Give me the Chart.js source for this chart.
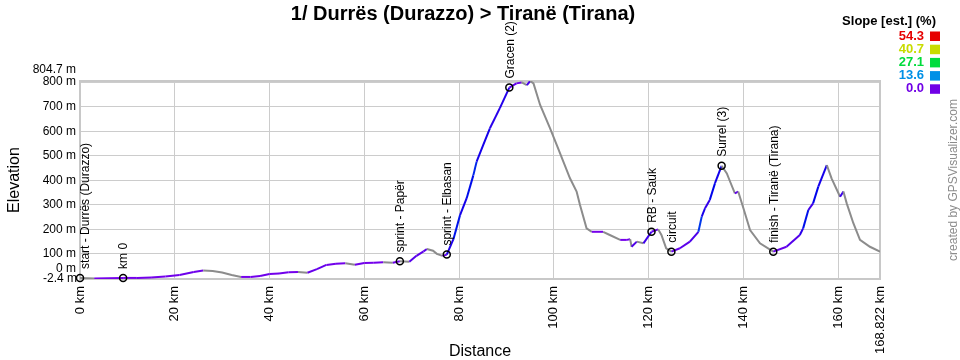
<!DOCTYPE html>
<html><head><meta charset="utf-8">
<script src="https://cdn.jsdelivr.net/npm/chart.js@4/dist/chart.umd.min.js"></script>
<style>html,body{margin:0;padding:0;background:#fff;}canvas{display:block;}</style>
</head><body>
<canvas id="c" width="960" height="360"></canvas>
<script>
const distKm = [0,3,6,9.1,12,15,18,21,24,26,
  28,30,32,34,36,38,40,42,44,46,
  48,50,52,54,56,58,60,62,64,66,
  67.5,69.5,71,72.5,73.2,74.5,75.3,76.5,77.4,78.8,
  80.2,81.6,83.0,83.7,85.1,86.5,88.6,90.6,92.1,93.2,
  94.3,95.0,95.7,97.1,99.2,100.6,102,103.4,104.8,105.5,
  106.9,108,110.4,111.8,114,115.4,116.1,116.4,117.5,118.9,
  120.6,122,122.7,123.7,124.8,126.6,128.7,130.5,131.2,131.9,
  132.9,134,135.4,136.5,137.2,138.2,138.9,140,141.4,143.5,
  146.3,149.1,151.9,152.6,153.7,154.7,155.8,157.6,158.6,160.4,
  161.1,161.8,163.2,164.6,166.7,168.822];
const elevM = [2,0,1,2,2,4,8,14,26,32,
  30,24,14,6,6,10,18,20,25,26,
  23,38,55,60,62,56,63,64,66,64,
  70,68,92,110,120,113,100,92,97,160,
  258,327,420,476,544,612,694,778,795,799,
  788,804.7,795,707,612,544,476,408,354,300,
  204,190,190,177,157,157,160,129,150,143,
  190,200,177,123,109,123,150,190,252,286,
  320,388,459,428,394,347,354,286,197,143,
  109,129,177,204,279,306,374,462,408,333,
  354,306,225,157,129,109];
const wpNames = ["start - Durrës (Durazzo)","km 0","sprint - Papër","sprint - Elbasan","Gracen (2)","RB - Sauk","circuit","Surrel (3)","finish - Tiranë (Tirana)"];
const wpKm = [0,9.1,67.5,77.4,90.6,120.6,124.8,135.4,146.3];
const wpElev = [2,2,70,97,778,190,109,459,109];
const xTickKm = [0,20,40,60,80,100,120,140,160,168.822];
const yTickM = [0,100,200,300,400,500,600,700,800];
const yMin = -2.4, yMax = 804.7, xMax = 168.822;
const slopeLegend = [54.3,40.7,27.1,13.6,0.0];
const slopeColors = ['#e60000','#c8dc00','#00dc3c','#0090e6','#7000e6'];
const titleText = "1/ Durrës (Durazzo) > Tiranë (Tirana)";

const FONT = '"Liberation Sans", Arial, sans-serif';
const slopeHues = [0,65,140,202,270];
function slopeColor(s){
  if (s < 0) return '#8c8c8c';
  const v = slopeLegend.slice().reverse();
  const h = slopeHues.slice().reverse();
  if (s >= v[v.length-1]) return 'hsl(0,100%,45%)';
  for (let i=0;i<v.length-1;i++){
    if (s <= v[i+1]){
      const t=(s-v[i])/(v[i+1]-v[i]);
      return 'hsl('+(h[i]+(h[i+1]-h[i])*t).toFixed(1)+',100%,46%)';
    }
  }
  return '#8c8c8c';
}

const textPlugin = {
  id:'texts',
  beforeDatasetsDraw(chart){
    const {ctx, chartArea:a} = chart;
    ctx.save();
    ctx.strokeStyle='#c8c8c8'; ctx.lineWidth=2;
    ctx.strokeRect(a.left, a.top, a.right-a.left, a.bottom-a.top);
    ctx.restore();
  },
  afterDraw(chart){
    const {ctx, chartArea:a, scales} = chart;
    const xs = scales.x, ys = scales.y;
    ctx.save();
    ctx.fillStyle='#000';
    ctx.font='bold 20px '+FONT; ctx.textAlign='center'; ctx.textBaseline='middle';
    ctx.fillText(titleText, 463, 14);
    ctx.font='bold 13px '+FONT; ctx.textAlign='right';
    ctx.fillText('Slope [est.] (%)', 936, 21);
    slopeLegend.forEach((v,i)=>{
      const cy = 36 + i*13.2;
      ctx.fillStyle = slopeColors[i];
      ctx.fillText(v.toFixed(1), 924, cy);
      ctx.fillRect(930, cy-4.5, 10, 9.5);
    });
    ctx.fillStyle='#000'; ctx.font='12px '+FONT; ctx.textAlign='right';
    yTickM.forEach(v=>{
      let y = ys.getPixelForValue(v);
      if (v===0) y -= 10;
      ctx.fillText(v+' m', 76, y);
    });
    ctx.fillText(yMax+' m', 76, ys.getPixelForValue(yMax)-11);
    ctx.fillText(yMin+' m', 77, ys.getPixelForValue(yMin));
    ctx.font='16px '+FONT; ctx.textAlign='center';
    ctx.fillText('Distance', 480, 352);
    ctx.save(); ctx.translate(15,(a.top+a.bottom)/2); ctx.rotate(-Math.PI/2);
    ctx.fillText('Elevation',0,0); ctx.restore();
    ctx.save(); ctx.fillStyle='#8c8c8c'; ctx.font='12px '+FONT;
    ctx.translate(954,180); ctx.rotate(-Math.PI/2); ctx.fillText('created by GPSVisualizer.com',0,0); ctx.restore();
    ctx.font='12px '+FONT; ctx.textAlign='left'; ctx.fillStyle='#000';
    wpNames.forEach((n,i)=>{
      const px = xs.getPixelForValue(wpKm[i]), py = ys.getPixelForValue(wpElev[i]);
      ctx.save(); ctx.translate(Math.max(px, a.left+5)+1, py-9); ctx.rotate(-Math.PI/2);
      ctx.fillText(n,0,0); ctx.restore();
    });
    ctx.restore();
  }
};

new Chart(document.getElementById('c'), {
  type:'line',
  data:{ datasets:[
    { data: distKm.map((d,i)=>({x:d,y:elevM[i]})), borderWidth:2, pointRadius:0, tension:0,
      borderColor:'#8c8c8c',
      segment:{ borderColor: c => slopeColor((c.p1.parsed.y-c.p0.parsed.y)/((c.p1.parsed.x-c.p0.parsed.x)*1000)*100) },
      order:2 },
    { data: wpKm.map((d,i)=>({x:d,y:wpElev[i]})), showLine:false, pointRadius:3.5, pointBorderWidth:1.5,
      pointBorderColor:'#000', pointBackgroundColor:'rgba(0,0,0,0)', clip:false, order:1 }
  ]},
  options:{
    responsive:false, animation:false, devicePixelRatio:1,
    layout:{padding:{top:81,right:80,left:0,bottom:0}},
    plugins:{legend:{display:false}, tooltip:{enabled:false}, title:{display:false}},
    scales:{
      x:{ type:'linear', min:0, max:xMax,
        afterBuildTicks: s => { s.ticks = xTickKm.map(v=>({value:v})); },
        afterFit: s => { s.height = 81; },
        grid:{color:'#cccccc', lineWidth:1, drawTicks:false},
        border:{display:false},
        ticks:{ autoSkip:false, minRotation:90, maxRotation:90, padding:7, color:'#000',
          font:{family:FONT, size:13}, callback: v => v+' km' } },
      y:{ type:'linear', min:yMin, max:yMax,
        afterBuildTicks: s => { s.ticks = yTickM.map(v=>({value:v})); },
        afterFit: s => { s.width = 80; },
        grid:{color:'#cccccc', lineWidth:1, drawTicks:false},
        border:{display:false},
        ticks:{display:false} }
    }
  },
  plugins:[textPlugin]
});
</script>
</body></html>
